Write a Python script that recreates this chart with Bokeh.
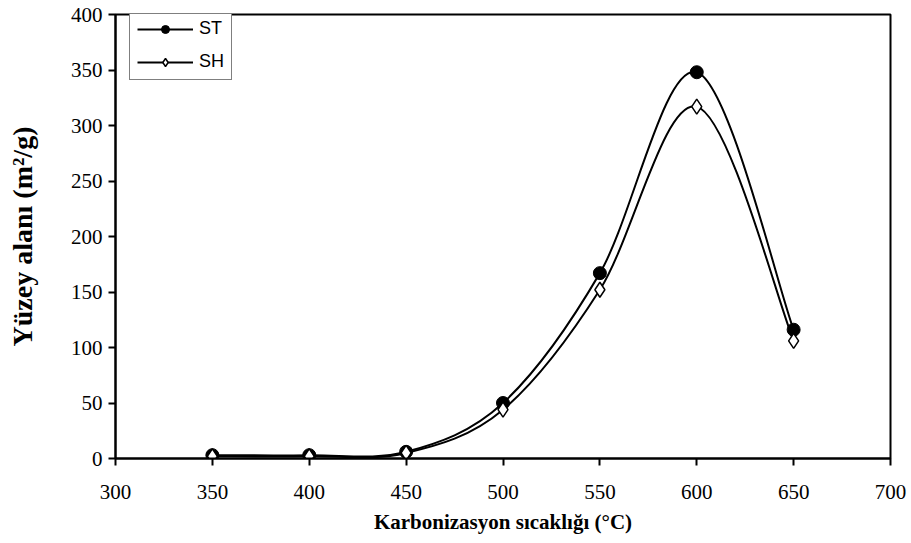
from bokeh.plotting import figure
from bokeh.models import Range1d, FixedTicker, Legend, LegendItem, ColumnDataSource
from bokeh.embed import file_html
from bokeh.resources import INLINE

temps = [350, 400, 450, 500, 550, 600, 650]
st_vals = [3, 3, 6, 50, 167, 348, 116]
sh_vals = [2, 2, 5, 44, 152, 317, 106]
x_ticks = [300, 350, 400, 450, 500, 550, 600, 650, 700]
y_ticks = [0, 50, 100, 150, 200, 250, 300, 350, 400]


def smooth_segments(xs, ys):
    # Catmull-Rom style Bezier control points (like a spreadsheet "smoothed line")
    n = len(xs)
    d = dict(x0=[], y0=[], x1=[], y1=[], cx0=[], cy0=[], cx1=[], cy1=[])
    for i in range(n - 1):
        p0 = (xs[max(i - 1, 0)], ys[max(i - 1, 0)])
        p1 = (xs[i], ys[i])
        p2 = (xs[i + 1], ys[i + 1])
        p3 = (xs[min(i + 2, n - 1)], ys[min(i + 2, n - 1)])
        d["x0"].append(p1[0]); d["y0"].append(p1[1])
        d["x1"].append(p2[0]); d["y1"].append(p2[1])
        d["cx0"].append(p1[0] + (p2[0] - p0[0]) / 6.0)
        d["cy0"].append(p1[1] + (p2[1] - p0[1]) / 6.0)
        d["cx1"].append(p2[0] - (p3[0] - p1[0]) / 6.0)
        d["cy1"].append(p2[1] - (p3[1] - p1[1]) / 6.0)
    return ColumnDataSource(d)


p = figure(width=911, height=543, output_backend="svg", toolbar_location=None,
           x_range=Range1d(300, 700), y_range=Range1d(0, 400),
           min_border_left=115, min_border_right=21, min_border_top=14, min_border_bottom=85)
p.grid.visible = False
p.outline_line_color = "black"
p.outline_line_width = 2

for ax in (p.xaxis[0], p.yaxis[0]):
    ax.axis_line_width = 2
    ax.major_tick_line_width = 2
    ax.major_tick_in = 0
    ax.major_tick_out = 7
    ax.minor_tick_line_color = None
    ax.major_label_text_font = "Liberation Serif"
    ax.major_label_text_font_size = "21px"
    ax.major_label_text_color = "black"
    ax.axis_label_text_font = "Liberation Serif"
    ax.axis_label_text_font_style = "bold"
    ax.axis_label_text_color = "black"

p.xaxis.axis_label_text_font_size = "21px"
p.yaxis.axis_label_text_font_size = "28px"
p.xaxis.ticker = FixedTicker(ticks=x_ticks)
p.yaxis.ticker = FixedTicker(ticks=y_ticks)
p.xaxis.axis_label = "Karbonizasyon sıcaklığı (°C)"
p.yaxis.axis_label = "Yüzey alanı (m²/g)"
p.xaxis.major_label_standoff = 19
p.yaxis.major_label_standoff = 6
p.xaxis.axis_label_standoff = 8
p.yaxis.axis_label_standoff = 30

st_curve = p.bezier(x0="x0", y0="y0", x1="x1", y1="y1", cx0="cx0", cy0="cy0",
                    cx1="cx1", cy1="cy1", source=smooth_segments(temps, st_vals),
                    line_color="black", line_width=2)
sh_curve = p.bezier(x0="x0", y0="y0", x1="x1", y1="y1", cx0="cx0", cy0="cy0",
                    cx1="cx1", cy1="cy1", source=smooth_segments(temps, sh_vals),
                    line_color="black", line_width=2)
st_pts = p.scatter(temps, st_vals, marker="circle", size=13, fill_color="black",
                   line_color="black")
sh_pts = p.scatter(temps, sh_vals, marker="diamond", size=15, fill_color="white",
                   line_color="black", line_width=1.5)

legend = Legend(items=[LegendItem(label="ST", renderers=[st_curve, st_pts]),
                       LegendItem(label="SH", renderers=[sh_curve, sh_pts])],
                location=(14, 378), margin=0, padding=7, spacing=12,
                glyph_width=56, glyph_height=20, label_height=20, label_standoff=6,
                label_text_font="Liberation Sans", label_text_font_size="18px",
                label_text_color="black",
                border_line_color="black", border_line_width=1,
                background_fill_alpha=1)
p.add_layout(legend, "center")

open("out.html", "w").write(file_html(p, INLINE))
